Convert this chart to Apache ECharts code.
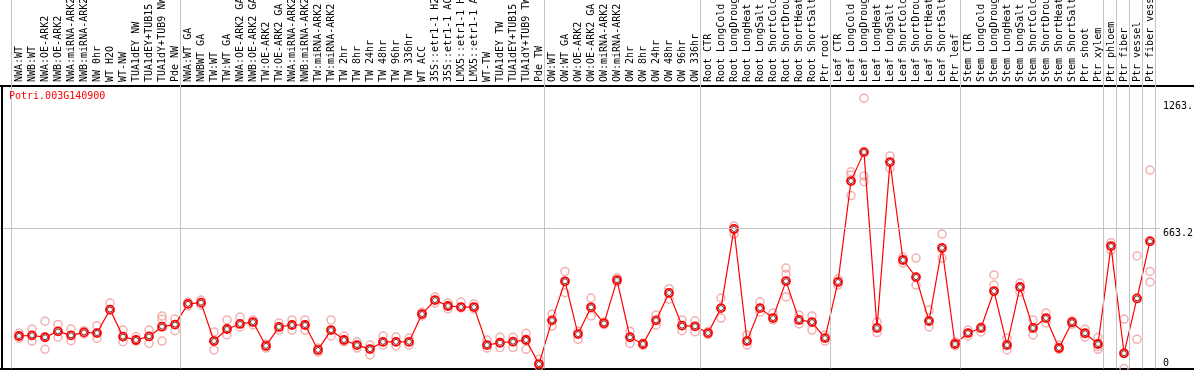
<!DOCTYPE html>
<html>
<head>
<meta charset="utf-8">
<script src="https://cdn.jsdelivr.net/npm/echarts@6/dist/echarts.min.js"></script>
<style>
html, body { margin: 0; padding: 0; background: #fff; }
#chart { width: 1194px; height: 370px; }
</style>
</head>
<body>
<div id="chart"></div>
<script>
const geneId = 'Potri.003G140900';

const categories = [
    'NWA:WT', 'NWB:WT', 'NWA:OE-ARK2', 'NWB:OE-ARK2', 'NWA:miRNA-ARK2', 'NWB:miRNA-ARK2',
    'NW 0hr', 'WT H2O', 'WT-NW', 'TUA1dEY NW', 'TUA1dEY+TUB15 NW', 'TUA1dY+TUB9 NW', 'Pde NW',
    'NWA:WT GA', 'NWBWT GA', 'TW:WT', 'TW:WT GA', 'NWA:OE-ARK2 GA', 'NWB:OE-ARK2 GA',
    'TW:OE-ARK2', 'TW:OE-ARK2 GA', 'NWA:miRNA-ARK2 GA', 'NWB:miRNA-ARK2 GA', 'TW:miRNA-ARK2',
    'TW:miRNA-ARK2', 'TW 2hr', 'TW 8hr', 'TW 24hr', 'TW 48hr', 'TW 96hr', 'TW 336hr', 'WT ACC',
    '35S::etr1-1 H2O', '35S::etr1-1 ACC', 'LMX5::etr1-1 H2O', 'LMX5::etr1-1 ACC', 'WT-TW',
    'TUA1dEY TW', 'TUA1dEY+TUB15 TW', 'TUA1dY+TUB9 TW', 'Pde TW',
    'OW:WT', 'OW:WT GA', 'OW:OE-ARK2', 'OW:OE-ARK2 GA', 'OW:miRNA-ARK2', 'OW:miRNA-ARK2',
    'OW 2hr', 'OW 8hr', 'OW 24hr', 'OW 48hr', 'OW 96hr', 'OW 336hr',
    'Root CTR', 'Root LongCold', 'Root LongDrought', 'Root LongHeat', 'Root LongSalt',
    'Root ShortCold', 'Root ShortDrought', 'Root ShortHeat', 'Root ShortSalt', 'Ptr root',
    'Leaf CTR', 'Leaf LongCold', 'Leaf LongDrought', 'Leaf LongHeat', 'Leaf LongSalt',
    'Leaf ShortCold', 'Leaf ShortDrought', 'Leaf ShortHeat', 'Leaf ShortSalt', 'Ptr leaf',
    'Stem CTR', 'Stem LongCold', 'Stem LongDrought', 'Stem LongHeat', 'Stem LongSalt',
    'Stem ShortCold', 'Stem ShortDrought', 'Stem ShortHeat', 'Stem ShortSalt', 'Ptr shoot',
    'Ptr xylem', 'Ptr phloem', 'Ptr fiber', 'Ptr vessel', 'Ptr fiber vessel'
];

// number of samples in each block between the grey separators
const groupSizes = [13, 28, 12, 10, 10, 11, 1, 1, 1, 1];

const meanValues = [
    154, 157, 148, 176, 157, 171, 168, 279, 151, 135, 152, 198, 208,
    306, 312, 130, 187, 211, 220, 107, 197, 206, 206, 88, 182, 135, 111, 92, 126, 126,
    126, 258, 324, 296, 291, 291, 111, 122, 127, 135, 21,
    228, 413, 163, 290, 214, 419, 148, 116, 228, 358, 203, 200,
    168, 286, 661, 130, 286, 239, 414, 230, 220, 144,
    410, 888, 1025, 192, 978, 514, 433, 225, 571, 116,
    168, 192, 367, 111, 386, 192, 239, 97, 219, 167,
    116, 580, 72, 332, 603
];

const rep1 = [
    167, 187, 224, 209, 187, 179, 203, 310, 182, 151, 182, 249, 234,
    315, 324, 173, 230, 244, 230, 116, 216, 230, 230, 97, 230, 154, 126, 111, 154, 149,
    144, 267, 339, 310, 315, 306, 135, 148, 148, 167, 44,
    257, 460, 176, 334, 220, 430, 176, 120, 253, 378, 230, 226,
    175, 334, 675, 159, 315, 263, 476, 253, 249, 159,
    424, 932, 1280, 220, 1007, 528, 523, 277, 637, 126,
    182, 197, 443, 144, 405, 230, 263, 111, 225, 186,
    148, 596, 234, 533, 940
];

const rep2 = [
    143, 130, 148, 148, 132, 163, 143, 277, 127, 130, 119, 233, 179,
    296, 301, 88, 159, 197, 206, 97, 182, 182, 182, 78, 154, 126, 97, 64, 111, 107,
    111, 249, 310, 282, 287, 282, 97, 99, 99, 138, 10,
    201, 359, 138, 249, 208, 410, 119, 110, 205, 328, 179, 174,
    160, 239, 637, 111, 267, 230, 447, 211, 182, 130,
    395, 917, 912, 170, 948, 500, 395, 197, 523, 107,
    154, 173, 395, 88, 362, 159, 216, 90, 210, 148,
    103, 561, 0, 138, 460
];

const rep3 = [
    null, null, 91, null, null, null, null, null, null, null, null, 130, null,
    null, null, null, null, null, null, null, null, null, null, null, null, null, null, null, null, null,
    null, null, null, null, null, null, null, null, null, 91, null,
    null, null, null, null, null, null, null, null, null, null, null, null,
    null, null, null, null, null, null, 339, null, null, null,
    null, 819, 885, null, null, null, null, null, null, null,
    null, null, null, null, null, null, null, null, null, null,
    91, null, null, null, 410
];

const yTickValues = [663.2, 1263];
const yTickLabels = ['663.2', '1263.'];
const yZeroLabel = '0';
const midLineValue = 663.2;

const chart = echarts.init(document.getElementById('chart'));

const monoFont = 'DejaVu Sans Mono';
// x index i sits at 19 + 13 * i px, 0 sits on the bottom frame
const xMin = -19 / 13;
const xMax = (1194 - 19) / 13;
const yMax = 368.5 / 0.2111;
const plotRightX = (1160 - 19) / 13;
const frameTopY = (368.5 - 85.5) / 0.2111;

const meanData = meanValues.map((v, i) => [i, v]);
const repData = [];
[rep1, rep2, rep3].forEach(rep => {
    rep.forEach((v, i) => {
        if (v !== null) repData.push([i, v]);
    });
});

const separatorLines = [];
let lastIdx = -1;
separatorLines.push({ xAxis: lastIdx + 0.42 });
groupSizes.forEach(n => {
    lastIdx += n;
    separatorLines.push({ xAxis: lastIdx + 0.42 });
});

const greyLine = { color: '#c4c4c4', width: 1, type: 'solid' };

const options = {
    animation: false,
    backgroundColor: '#fff',
    title: {
        text: geneId,
        left: 9,
        top: 91,
        padding: 0,
        textStyle: {
            fontFamily: monoFont,
            fontSize: 10,
            fontWeight: 'normal',
            color: '#ff0000'
        }
    },
    grid: {
        left: 0,
        right: 0,
        top: 0,
        bottom: 1.5,
        containLabel: false,
        outerBoundsMode: 'none'
    },
    xAxis: [{
        type: 'value',
        position: 'top',
        offset: -86,
        min: xMin,
        max: xMax,
        axisLine: { show: true, onZero: false, lineStyle: { color: '#000', width: 2 } },
        axisTick: { show: false },
        splitLine: { show: false },
        axisLabel: {
            customValues: categories.map((c, i) => i),
            formatter: v => categories[Math.round(v)] || '',
            rotate: -90,
            margin: 4,
            fontFamily: monoFont,
            fontSize: 10,
            color: '#000'
        }
    }, {
        type: 'value',
        position: 'bottom',
        min: xMin,
        max: xMax,
        axisLine: { show: true, onZero: false, lineStyle: { color: '#000', width: 2 } },
        axisTick: { show: false },
        splitLine: { show: false },
        axisLabel: { show: false }
    }],
    yAxis: [{
        type: 'value',
        position: 'right',
        offset: -34,
        min: 0,
        max: yMax,
        axisLine: { show: false, onZero: false },
        axisTick: { show: false },
        splitLine: { show: false },
        axisLabel: {
            customValues: yTickValues,
            formatter: v => yTickLabels[yTickValues.indexOf(v)],
            verticalAlign: 'top',
            margin: 3,
            fontFamily: monoFont,
            fontSize: 10,
            color: '#000'
        }
    }, {
        type: 'value',
        position: 'right',
        offset: -34,
        min: 0,
        max: yMax,
        axisLine: { show: false, onZero: false },
        axisTick: { show: false },
        splitLine: { show: false },
        axisLabel: {
            customValues: [0],
            formatter: () => yZeroLabel,
            verticalAlign: 'bottom',
            margin: 3,
            fontFamily: monoFont,
            fontSize: 10,
            color: '#000'
        }
    }],
    series: [{
        name: 'replicates',
        type: 'scatter',
        data: repData,
        symbol: 'circle',
        symbolSize: 8,
        z: 2,
        itemStyle: {
            color: 'rgba(0,0,0,0)',
            borderColor: '#f09c9c',
            borderWidth: 1.5
        },
        markLine: {
            silent: true,
            symbol: 'none',
            label: { show: false },
            lineStyle: greyLine,
            data: separatorLines.concat([
                [{ coord: [xMin, midLineValue] }, { coord: [plotRightX, midLineValue] }]
            ])
        }
    }, {
        name: 'frame',
        type: 'line',
        data: [],
        markLine: {
            silent: true,
            symbol: 'none',
            label: { show: false },
            lineStyle: { color: '#000', width: 2, type: 'solid' },
            data: [
                [{ coord: [(2 - 19) / 13, 0] }, { coord: [(2 - 19) / 13, frameTopY] }]
            ]
        }
    }, {
        name: 'mean',
        type: 'line',
        data: meanData,
        z: 3,
        symbol: 'circle',
        symbolSize: 8,
        showAllSymbol: true,
        lineStyle: { color: '#ff0000', width: 1.2 },
        itemStyle: {
            color: '#fff',
            borderColor: '#ff0000',
            borderWidth: 1.8
        }
    }, {
        name: 'meanCore',
        type: 'scatter',
        data: meanData,
        z: 4,
        symbol: 'circle',
        symbolSize: 5,
        itemStyle: {
            color: 'rgba(0,0,0,0)',
            borderColor: '#500000',
            borderWidth: 1
        }
    }]
};

chart.setOption(options);
</script>
</body>
</html>
